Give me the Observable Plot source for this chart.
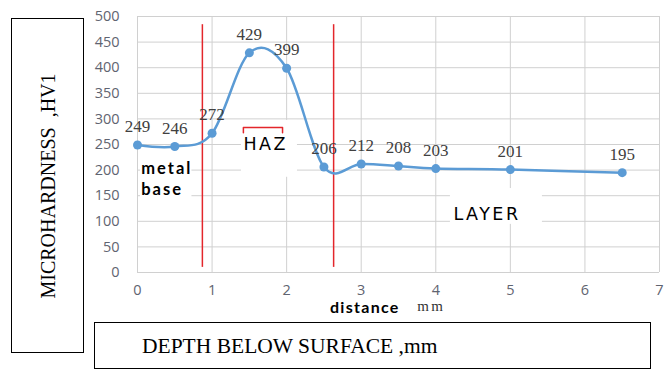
<!DOCTYPE html>
<html><head><meta charset="utf-8">
<script src="https://cdn.jsdelivr.net/npm/d3@7"></script>
<script src="https://cdn.jsdelivr.net/npm/@observablehq/plot@0.6"></script>
<style>
body{margin:0;background:#fff;}
#wrap{position:relative;width:665px;height:372px;overflow:hidden;background:#fff;}
#wrap svg{position:absolute;left:0;top:0;}
.box{position:absolute;border:1.5px solid #000;box-sizing:border-box;background:#fff;}
</style></head><body>
<div id="wrap"></div>
<script>
// ---- data ----
const distance = [0, 0.5, 1, 1.5, 2, 2.5, 3, 3.5, 4, 5, 6.5];
const hardness = [249, 246, 272, 429, 399, 206, 212, 208, 203, 201, 195];
const xTicks = [0, 1, 2, 3, 4, 5, 6, 7];
const yTicks = [0, 50, 100, 150, 200, 250, 300, 350, 400, 450, 500];
const zoneBounds = [0.87, 2.63];
const yTitle = "MICROHARDNESS\u00a0 ,HV1";
const xTitle = "DEPTH BELOW SURFACE ,mm";
const xAxisWord = "distance";
const xAxisUnit = "mm";
// annotation boxes (white backgrounds of the text boxes), in data units
const textBoxes = [
  {x1: 0.04, x2: 0.73, y1: 225, y2: 144},
  {x1: 1.394, x2: 2.145, y1: 297, y2: 186},
  {x1: 4.196, x2: 5.43, y1: 164, y2: 94}
];
const hazBracket = [[1.42, 273], [1.42, 283], [1.945, 283], [1.945, 273]];
const zoneText = [
  {x: 0.05, y: 193, t: "metal", kind: "base"},
  {x: 0.05, y: 152, t: "base", kind: "base"},
  {x: 1.42, y: 240, t: "HAZ", kind: "zone"},
  {x: 4.236, y: 103.5, t: "LAYER", kind: "zone"}
];

const data = distance.map((d, i) => ({d, h: hardness[i]}));

const chart = Plot.plot({
  width: 665, height: 372,
  marginLeft: 137, marginRight: 6, marginTop: 16, marginBottom: 100,
  x: {domain: [0, 7]},
  y: {domain: [0, 500]},
  style: {fontFamily: "'Open Sans'", fontSize: "14px", color: "#5f6470", background: "transparent", overflow: "visible"},
  marks: [
    Plot.gridX(xTicks, {stroke: "#d0d0d0", strokeOpacity: 1}),
    Plot.gridY(yTicks, {stroke: "#d0d0d0", strokeOpacity: 1}),
    Plot.axisX(xTicks, {tickSize: 0, tickPadding: 12, label: null, fontSize: 14.5}),
    Plot.axisY(yTicks, {tickSize: 0, tickPadding: 18, label: null, fontSize: 14.5}),
    Plot.rect(textBoxes, {x1: "x1", x2: "x2", y1: "y1", y2: "y2", fill: "white"}),
    Plot.ruleX(zoneBounds, {y1: 10, y2: 484, stroke: "#e3262b", strokeWidth: 1.5}),
    Plot.line(hazBracket, {x: d => d[0], y: d => d[1], stroke: "#e3262b", strokeWidth: 1.5}),
    Plot.line(data, {x: "d", y: "h", curve: "cardinal", stroke: "#5b9bd5", strokeWidth: 2.5}),
    Plot.dot(data, {x: "d", y: "h", r: 4.5, fill: "#5b9bd5"}),
    Plot.text(data, {x: "d", y: "h", text: d => String(d.h), dy: -13, lineAnchor: "bottom",
      fontFamily: "'Liberation Serif'", fontSize: 17, fill: "#404040"}),
    Plot.text(zoneText.filter(d => d.kind === "base"), {x: "x", y: "y", text: "t", textAnchor: "start", lineAnchor: "bottom",
      fontFamily: "Lato", fontWeight: "bold", fontSize: 16.5, fill: "#000"}),
    Plot.text(zoneText.filter(d => d.kind === "zone"), {x: "x", y: "y", text: "t", textAnchor: "start", lineAnchor: "bottom",
      fontFamily: "'DejaVu Sans'", fontSize: 17.5, fill: "#000"}),
    Plot.text([xAxisWord], {x: 2.58, y: -80, text: d => d, textAnchor: "start", lineAnchor: "bottom",
      fontFamily: "Lato", fontWeight: "bold", fontSize: 16, fill: "#000"}),
    Plot.text([xAxisUnit], {x: 3.75, y: -75, text: d => d, textAnchor: "start", lineAnchor: "bottom",
      fontFamily: "'Liberation Serif'", fontSize: 15, fill: "#333"})
  ]
});
// letter spacing on annotation labels
const sel = d3.select(chart).selectAll("text");
sel.filter(function(){ const t = this.textContent; return t === "HAZ" || t === "LAYER"; }).style("letter-spacing", "2.5px");
sel.filter(function(){ const t = this.textContent; return t === "metal" || t === "base"; }).style("letter-spacing", "2px");
sel.filter(function(){ return this.textContent === "distance"; }).style("letter-spacing", "1.3px");
sel.filter(function(){ return this.textContent === "mm"; }).style("letter-spacing", "2.5px");

const wrap = document.getElementById("wrap");
wrap.appendChild(chart);

const ybox = document.createElement("div");
ybox.className = "box";
Object.assign(ybox.style, {left: "11px", top: "18px", width: "73px", height: "335px"});
const ys = document.createElement("span");
Object.assign(ys.style, {position: "absolute", left: "50%", top: "50%", transform: "translate(-50%,-50%) rotate(-90deg)",
  whiteSpace: "nowrap", fontFamily: "'Liberation Serif'", fontSize: "20px", color: "#000"});
ys.textContent = yTitle;
ybox.appendChild(ys);
wrap.appendChild(ybox);

const xbox = document.createElement("div");
xbox.className = "box";
Object.assign(xbox.style, {left: "94px", top: "322px", width: "557px", height: "47px"});
const xs = document.createElement("span");
Object.assign(xs.style, {position: "absolute", left: "47px", top: "50%", transform: "translateY(-50%)",
  whiteSpace: "nowrap", fontFamily: "'Liberation Serif'", fontSize: "21.5px", color: "#000"});
xs.textContent = xTitle;
xbox.appendChild(xs);
wrap.appendChild(xbox);
</script>
</body></html>
